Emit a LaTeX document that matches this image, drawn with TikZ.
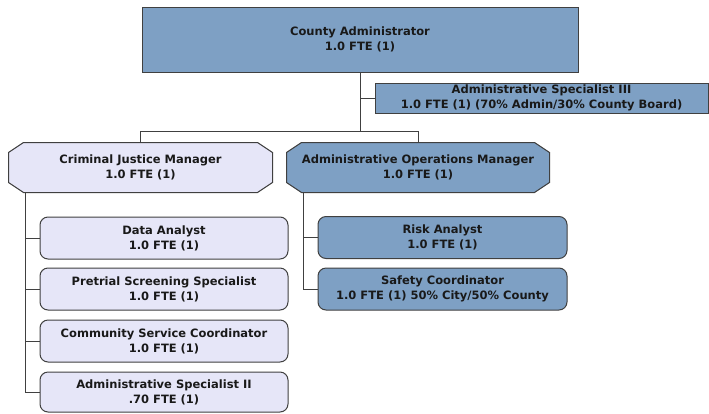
\documentclass[tikz,border=0pt]{standalone}
\usepackage{fontspec}
\setmainfont{DejaVu Sans}
\usetikzlibrary{backgrounds}
\definecolor{bleuposte}{RGB}{126,160,196}
\definecolor{lavande}{RGB}{230,230,248}
\definecolor{trait}{RGB}{64,64,64}
\begin{document}
\begin{tikzpicture}[x=1pt,y=-1pt]
	% Styles (MODIFIABLES)
	\tikzstyle{lien}=[-,draw=trait,line width=1pt]
	\tikzstyle{poste}=[draw=trait,line width=1pt,text=black!90,align=center,
		font=\fontsize{11.5}{15}\selectfont\bfseries,inner sep=0pt]
	\tikzstyle{direction}=[poste,rectangle,fill=bleuposte]
	\tikzstyle{chef}=[poste,rectangle,draw=none]
	\tikzstyle{agent}=[poste,rectangle,rounded corners=8pt]
	% Dimensions (MODIFIABLES)
	\def\LargeurAgent{248}
	\def\HauteurAgent{42}
	\def\ColonneA{164}
	\def\ColonneB{442.5}
	\def\PanX{15pt}
	\def\PanY{10pt}
	\useasboundingbox (0,0) rectangle (709,413);
	% Noeuds
	\node[direction,minimum width=436,minimum height=65] (CA) at (360,39.5)
		{County Administrator\\1.0 FTE (1)};
	\node[direction,minimum width=333,minimum height=30] (ASIII) at (541.5,98)
		{Administrative Specialist III\\1.0 FTE (1) (70\% Admin/30\% County Board)};
	\node[chef,minimum width=263,minimum height=49] (CJM) at (140.5,167.5)
		{Criminal Justice Manager\\1.0 FTE (1)};
	\node[chef,minimum width=262,minimum height=49] (AOM) at (418,167.5)
		{Administrative Operations Manager\\1.0 FTE (1)};
	% octogones des chefs (dessous du texte)
	\begin{scope}[on background layer]
		\foreach \n/\c in {CJM/lavande,AOM/bleuposte}
			\draw[draw=trait,line width=1pt,fill=\c]
				([xshift=\PanX]\n.north west)--([xshift=-\PanX]\n.north east)
				--([yshift=-\PanY]\n.north east)--([yshift=\PanY]\n.south east)
				--([xshift=-\PanX]\n.south east)--([xshift=\PanX]\n.south west)
				--([yshift=\PanY]\n.south west)--([yshift=-\PanY]\n.north west)--cycle;
	\end{scope}
	%
	\node[agent,fill=lavande,minimum width=\LargeurAgent,minimum height=\HauteurAgent] (DA) at (\ColonneA,238)
		{Data Analyst\\1.0 FTE (1)};
	\node[agent,fill=lavande,minimum width=\LargeurAgent,minimum height=\HauteurAgent] (PSS) at (\ColonneA,289)
		{Pretrial Screening Specialist\\1.0 FTE (1)};
	\node[agent,fill=lavande,minimum width=\LargeurAgent,minimum height=\HauteurAgent] (CSC) at (\ColonneA,341)
		{Community Service Coordinator\\1.0 FTE (1)};
	\node[agent,fill=lavande,minimum width=\LargeurAgent,minimum height=40] (ASII) at (\ColonneA,392)
		{Administrative Specialist II\\.70 FTE (1)};
	\node[agent,fill=bleuposte,minimum width=249,minimum height=\HauteurAgent] (RA) at (\ColonneB,237.5)
		{Risk Analyst\\1.0 FTE (1)};
	\node[agent,fill=bleuposte,minimum width=249,minimum height=\HauteurAgent] (SC) at (\ColonneB,289)
		{Safety Coordinator\\1.0 FTE (1) 50\% City/50\% County};
	%
	\coordinate (bus) at (360,131);
	\coordinate (troncA) at (25,192);
	\coordinate (troncB) at (303,192);
	% Arcs
	\draw[lien] (CA.south)--(bus);
	\draw[lien] (CA.south |- ASIII.west)--(ASIII.west);
	\draw[lien] (bus)-|(CJM.north);
	\draw[lien] (bus)-|(AOM.north);
	\foreach \n in {DA,PSS,CSC,ASII}
		\draw[lien] (troncA)|-(\n.west);
	\foreach \n in {RA,SC}
		\draw[lien] (troncB)|-(\n.west);
\end{tikzpicture}
\end{document}
